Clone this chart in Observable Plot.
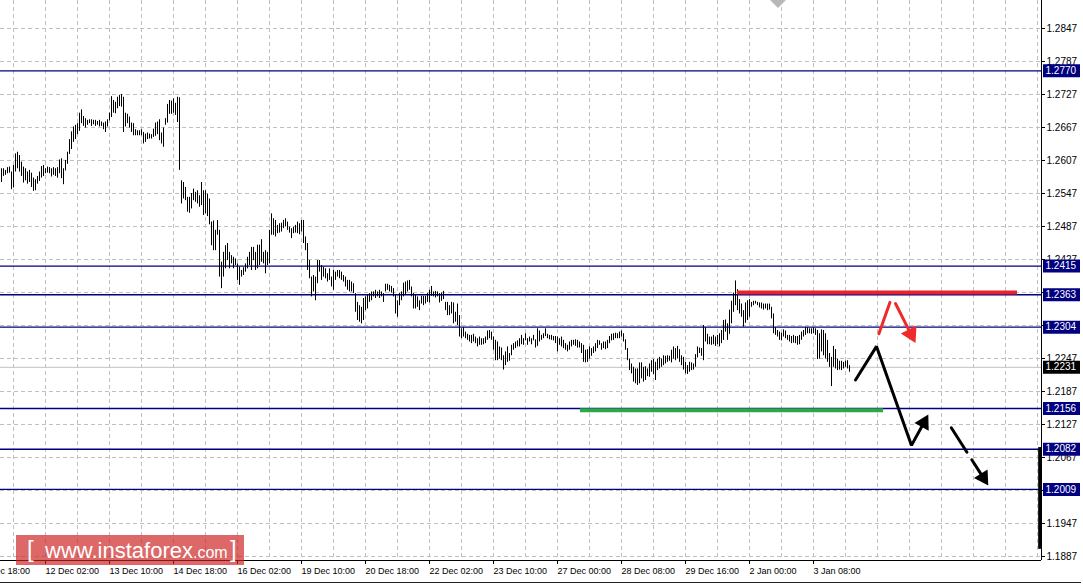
<!DOCTYPE html>
<html>
<head>
<meta charset="utf-8">
<script src="https://cdn.jsdelivr.net/npm/d3@7"></script>
<script src="https://cdn.jsdelivr.net/npm/@observablehq/plot@0.6"></script>
<style>
html,body{margin:0;padding:0;background:#fff;}
#wrap{position:relative;width:1083px;height:585px;overflow:hidden;background:#fff;}
#wm{position:absolute;left:16px;top:535px;width:228px;height:30px;background:rgba(205,32,32,0.68);color:#fff;font-family:"Liberation Sans",Arial,sans-serif;white-space:nowrap;line-height:30px;}
#wm .br{position:absolute;top:-1px;font-size:24px;}
#wm .big{position:absolute;left:29px;top:1px;font-size:22px;}
#wm .sm{font-size:16px;}
#topmark{position:absolute;left:770px;top:0;width:0;height:0;border-left:8px solid transparent;border-right:8px solid transparent;border-top:8px solid #b8b8b8;}
#bottomline{position:absolute;left:0;top:582px;width:1081px;height:1px;background:#222;}
</style>
</head>
<body>
<div id="wrap">
<div id="chart"></div>
<div id="topmark"></div>
<div id="bottomline"></div>
<div id="wm"><span class="br" style="left:11px">[</span><span class="big">www.instaforex<span class="sm">.com</span></span><span class="br" style="left:214px">]</span></div>
</div>
<script>
// ---- GBP/USD H1 bars (high / low) ----
const high = [
1.2592,1.2592,1.2589,1.2594,1.2595,1.2586,1.2598,1.2619,1.2622,1.2616,
1.2604,1.2595,1.2592,1.2586,1.2589,1.2584,1.2575,1.2572,1.2578,1.2586,
1.2596,1.2598,1.2592,1.2595,1.2594,1.2592,1.2594,1.2592,1.2594,1.2608,
1.2610,1.2592,1.2607,1.2622,1.2645,1.2659,1.2668,1.2671,1.2674,1.2693,
1.2699,1.2687,1.2683,1.2680,1.2681,1.2681,1.2680,1.2680,1.2678,1.2680,
1.2677,1.2675,1.2677,1.2681,1.2693,1.2723,1.2716,1.2713,1.2722,1.2725,
1.2727,1.2722,1.2693,1.2691,1.2686,1.2675,1.2674,1.2663,1.2661,1.2661,
1.2663,1.2658,1.2655,1.2657,1.2655,1.2654,1.2664,1.2675,1.2677,1.2681,
1.2657,1.2666,1.2683,1.2709,1.2716,1.2715,1.2719,1.2711,1.2722,1.2721,
1.2570,1.2567,1.2558,1.2540,1.2540,1.2547,1.2555,1.2549,1.2552,1.2543,
1.2567,1.2552,1.2552,1.2546,1.2537,1.2495,1.2497,1.2480,1.2498,1.2480,
1.2422,1.2440,1.2452,1.2456,1.2440,1.2434,1.2431,1.2428,1.2419,1.2413,
1.2407,1.2412,1.2419,1.2431,1.2440,1.2449,1.2449,1.2440,1.2453,1.2453,
1.2463,1.2440,1.2443,1.2440,1.2480,1.2510,1.2501,1.2498,1.2489,1.2492,
1.2493,1.2498,1.2501,1.2495,1.2486,1.2483,1.2486,1.2489,1.2495,1.2492,
1.2498,1.2498,1.2468,1.2456,1.2425,1.2395,1.2398,1.2395,1.2425,1.2425,
1.2416,1.2413,1.2410,1.2401,1.2410,1.2395,1.2407,1.2404,1.2407,1.2407,
1.2404,1.2398,1.2395,1.2389,1.2389,1.2386,1.2383,1.2365,1.2349,1.2343,
1.2340,1.2356,1.2359,1.2362,1.2365,1.2368,1.2368,1.2371,1.2368,1.2371,
1.2368,1.2365,1.2382,1.2382,1.2380,1.2378,1.2374,1.2362,1.2352,1.2365,
1.2368,1.2384,1.2386,1.2388,1.2389,1.2377,1.2365,1.2362,1.2359,1.2352,
1.2360,1.2360,1.2360,1.2365,1.2371,1.2378,1.2368,1.2369,1.2368,1.2365,
1.2366,1.2369,1.2349,1.2349,1.2343,1.2349,1.2348,1.2331,1.2346,1.2325,
1.2301,1.2303,1.2295,1.2291,1.2289,1.2289,1.2291,1.2286,1.2283,1.2286,
1.2283,1.2283,1.2286,1.2297,1.2298,1.2295,1.2286,1.2280,1.2277,1.2268,
1.2266,1.2252,1.2259,1.2268,1.2256,1.2271,1.2274,1.2277,1.2279,1.2283,
1.2289,1.2283,1.2292,1.2283,1.2286,1.2283,1.2289,1.2281,1.2301,1.2297,
1.2289,1.2292,1.2301,1.2291,1.2289,1.2289,1.2287,1.2287,1.2286,1.2283,
1.2286,1.2280,1.2274,1.2271,1.2277,1.2280,1.2280,1.2281,1.2280,1.2277,
1.2274,1.2271,1.2262,1.2263,1.2268,1.2265,1.2268,1.2274,1.2280,1.2279,
1.2274,1.2277,1.2277,1.2280,1.2287,1.2291,1.2292,1.2293,1.2292,1.2295,
1.2297,1.2292,1.2281,1.2265,1.2246,1.2237,1.2231,1.2228,1.2228,1.2239,
1.2239,1.2231,1.2232,1.2228,1.2237,1.2243,1.2245,1.2240,1.2246,1.2249,
1.2246,1.2252,1.2251,1.2252,1.2251,1.2262,1.2268,1.2265,1.2269,1.2263,
1.2252,1.2249,1.2240,1.2234,1.2240,1.2239,1.2237,1.2254,1.2268,1.2266,
1.2265,1.2307,1.2303,1.2291,1.2286,1.2286,1.2289,1.2286,1.2289,1.2292,
1.2298,1.2316,1.2317,1.2310,1.2335,1.2351,1.2366,1.2388,1.2372,1.2354,
1.2346,1.2334,1.2348,1.2352,1.2354,1.2349,1.2351,1.2351,1.2349,1.2348,
1.2348,1.2346,1.2346,1.2346,1.2346,1.2340,1.2328,1.2303,1.2298,1.2295,
1.2293,1.2299,1.2297,1.2289,1.2289,1.2287,1.2289,1.2287,1.2287,1.2289,
1.2295,1.2298,1.2303,1.2303,1.2301,1.2301,1.2303,1.2301,1.2298,1.2292,
1.2299,1.2298,1.2292,1.2280,1.2256,1.2249,1.2269,1.2263,1.2246,1.2242,
1.2242,1.2240,1.2242,1.2243,1.2234
];
const low = [
1.2567,1.2578,1.2580,1.2583,1.2584,1.2554,1.2557,1.2586,1.2592,1.2586,
1.2578,1.2566,1.2570,1.2564,1.2567,1.2558,1.2551,1.2552,1.2564,1.2569,
1.2575,1.2578,1.2583,1.2584,1.2583,1.2577,1.2580,1.2578,1.2575,1.2583,
1.2574,1.2563,1.2588,1.2600,1.2618,1.2627,1.2640,1.2645,1.2654,1.2660,
1.2674,1.2669,1.2666,1.2671,1.2674,1.2669,1.2672,1.2669,1.2671,1.2668,
1.2669,1.2663,1.2658,1.2668,1.2679,1.2685,1.2693,1.2692,1.2701,1.2705,
1.2704,1.2658,1.2668,1.2674,1.2666,1.2658,1.2652,1.2652,1.2652,1.2652,
1.2652,1.2637,1.2640,1.2645,1.2646,1.2646,1.2649,1.2651,1.2654,1.2643,
1.2637,1.2631,1.2671,1.2675,1.2691,1.2691,1.2693,1.2689,1.2676,1.2589,
1.2528,1.2537,1.2534,1.2513,1.2511,1.2519,1.2534,1.2531,1.2528,1.2522,
1.2525,1.2507,1.2510,1.2505,1.2490,1.2452,1.2443,1.2443,1.2471,1.2395,
1.2374,1.2395,1.2410,1.2425,1.2410,1.2419,1.2410,1.2416,1.2389,1.2380,
1.2395,1.2398,1.2404,1.2410,1.2416,1.2407,1.2425,1.2407,1.2410,1.2416,
1.2422,1.2419,1.2401,1.2416,1.2419,1.2471,1.2471,1.2468,1.2474,1.2475,
1.2477,1.2483,1.2486,1.2480,1.2475,1.2465,1.2474,1.2475,1.2474,1.2472,
1.2477,1.2456,1.2443,1.2407,1.2392,1.2359,1.2368,1.2352,1.2383,1.2404,
1.2389,1.2395,1.2392,1.2386,1.2389,1.2377,1.2371,1.2389,1.2395,1.2392,
1.2389,1.2386,1.2377,1.2371,1.2368,1.2368,1.2365,1.2331,1.2316,1.2313,
1.2310,1.2316,1.2334,1.2337,1.2349,1.2352,1.2359,1.2356,1.2359,1.2356,
1.2359,1.2349,1.2368,1.2371,1.2368,1.2366,1.2359,1.2328,1.2322,1.2343,
1.2352,1.2359,1.2362,1.2368,1.2371,1.2359,1.2337,1.2337,1.2340,1.2334,
1.2346,1.2343,1.2346,1.2349,1.2348,1.2360,1.2359,1.2357,1.2359,1.2348,
1.2351,1.2354,1.2334,1.2325,1.2325,1.2328,1.2310,1.2313,1.2307,1.2286,
1.2283,1.2286,1.2283,1.2280,1.2277,1.2274,1.2277,1.2274,1.2268,1.2271,
1.2271,1.2272,1.2274,1.2280,1.2283,1.2280,1.2262,1.2243,1.2243,1.2246,
1.2243,1.2226,1.2234,1.2240,1.2242,1.2252,1.2262,1.2265,1.2268,1.2268,
1.2272,1.2271,1.2279,1.2271,1.2277,1.2272,1.2279,1.2266,1.2269,1.2277,
1.2280,1.2283,1.2287,1.2283,1.2281,1.2280,1.2279,1.2274,1.2259,1.2271,
1.2268,1.2265,1.2262,1.2259,1.2262,1.2268,1.2271,1.2269,1.2266,1.2266,
1.2256,1.2240,1.2239,1.2240,1.2246,1.2251,1.2256,1.2259,1.2265,1.2271,
1.2262,1.2265,1.2263,1.2265,1.2274,1.2279,1.2280,1.2283,1.2283,1.2283,
1.2286,1.2277,1.2262,1.2243,1.2225,1.2219,1.2204,1.2201,1.2198,1.2201,
1.2210,1.2204,1.2207,1.2214,1.2213,1.2222,1.2218,1.2207,1.2225,1.2228,
1.2231,1.2234,1.2237,1.2240,1.2242,1.2239,1.2246,1.2243,1.2246,1.2240,
1.2234,1.2226,1.2219,1.2218,1.2222,1.2225,1.2226,1.2231,1.2248,1.2256,
1.2251,1.2243,1.2277,1.2272,1.2272,1.2271,1.2272,1.2269,1.2272,1.2268,
1.2274,1.2280,1.2295,1.2280,1.2291,1.2310,1.2331,1.2343,1.2334,1.2328,
1.2322,1.2304,1.2311,1.2316,1.2322,1.2340,1.2343,1.2346,1.2343,1.2339,
1.2337,1.2335,1.2337,1.2334,1.2335,1.2319,1.2292,1.2289,1.2286,1.2280,
1.2279,1.2286,1.2283,1.2280,1.2277,1.2274,1.2275,1.2274,1.2271,1.2272,
1.2280,1.2286,1.2289,1.2292,1.2292,1.2291,1.2292,1.2289,1.2245,1.2246,
1.2259,1.2252,1.2246,1.2240,1.2231,1.2196,1.2231,1.2228,1.2225,1.2226,
1.2225,1.2228,1.2231,1.2228,1.2222
];

// ---- axes ----
const xTickIdx = [-10, 22, 54, 86, 118, 150, 182, 214, 246, 278, 310, 342, 374, 406];
const xTickLabels = ["8 Dec 18:00","12 Dec 02:00","13 Dec 10:00","14 Dec 18:00","16 Dec 02:00","19 Dec 10:00","20 Dec 18:00","22 Dec 02:00","23 Dec 10:00","27 Dec 00:00","28 Dec 08:00","29 Dec 16:00","2 Jan 00:00","3 Jan 08:00"];
const yTicks = [1.2847,1.2787,1.2727,1.2667,1.2607,1.2547,1.2487,1.2427,1.2367,1.2307,1.2247,1.2187,1.2127,1.2067,1.2007,1.1947,1.1887];
// tick labels fully covered by level boxes in the reference
const yHiddenLabels = [1.2367, 1.2307, 1.2007];
const gridIdx = d3.range(6, 520, 16);

// ---- levels & annotations (bar index, price) ----
const levels = [1.2770, 1.2415, 1.2363, 1.2304, 1.2156, 1.2082, 1.2009];
const lastPrice = 1.2231;
const resistance = {price: 1.2367, from: 368, to: 508};
const support = {price: 1.2153, from: 289.5, to: 441};
const redUp = [[438.7, 1.2292], [444.2, 1.2349]];
const redDown = [[447, 1.2347], [457, 1.2275]];
const blackZig = [[427, 1.2208], [437.5, 1.2269], [455, 1.2089], [463.4, 1.2145]];
const blackDash = [[474.9, 1.2121], [493.4, 1.2016]];
const scrollBar = {idx: 519.2, from: 1.2085, to: 1.1900};

// ---- layout ----
const W = 1083, H = 585, mL = 0, mR = 42, mT = 0, mB = 25;
const xDomain = [-0.5, 520];
const yDomain = [1.18797, 1.28979];
const kx = (W - mL - mR) / (xDomain[1] - xDomain[0]);
const ky = (H - mT - mB) / (yDomain[1] - yDomain[0]);
const boxX1 = 521, boxX2 = 539.5;

const bars = high.map((h, i) => ({i, high: h, low: low[i]}));
const labelMap = new Map(xTickIdx.map((d, i) => [d, xTickLabels[i]]));
const yLabelTicks = yTicks.filter(t => !yHiddenLabels.includes(t));

function arrowParts(pts, r) {
  const off = 2 * Math.sqrt(r * r * Math.PI / (3 * Math.sqrt(3)));
  const a = pts[pts.length - 2], b = pts[pts.length - 1];
  const dxs = (b[0] - a[0]) * kx, dys = -(b[1] - a[1]) * ky;
  const len = Math.hypot(dxs, dys), ux = dxs / len, uy = dys / len;
  const cx = b[0] - ux * off / kx, cy = b[1] + uy * off / ky;
  const line = pts.slice(0, -1).concat([[cx, cy]]).map(([x, y]) => ({x, y}));
  return {line, head: [{x: cx, y: cy, rotate: Math.atan2(ux, -uy) * 180 / Math.PI}]};
}
const aRed = arrowParts(redDown, 6.5);
const aZig = arrowParts(blackZig, 6);
const aDash = arrowParts(blackDash, 6);

const font = "'Liberation Sans', Arial, sans-serif";

const chart = Plot.plot({
  width: W, height: H,
  marginLeft: mL, marginRight: mR, marginTop: mT, marginBottom: mB,
  style: {fontFamily: font, fontSize: "9px", color: "#000", background: "#fff", overflow: "visible"},
  x: {domain: xDomain, axis: null},
  y: {domain: yDomain, axis: null},
  marks: [
    Plot.ruleX(gridIdx, {stroke: "#c0c0c0", strokeDasharray: "4,3"}),
    Plot.ruleY(yTicks, {stroke: "#c0c0c0", strokeDasharray: "4,3"}),
    Plot.ruleY([lastPrice], {stroke: "#c0c0c0"}),
    Plot.ruleY(levels, {stroke: "#000080", strokeWidth: 1.4}),
    Plot.ruleY([support], {y: "price", x1: "from", x2: "to", stroke: "#2aa84a", strokeWidth: 4}),
    Plot.ruleX(bars, {x: "i", y1: "low", y2: "high", stroke: "#000", strokeWidth: 1}),
    Plot.ruleY([resistance], {y: "price", x1: "from", x2: "to", stroke: "#e8232b", strokeWidth: 4}),
    Plot.line(redUp.map(([x, y]) => ({x, y})), {x: "x", y: "y", stroke: "#ee2a2a", strokeWidth: 3}),
    Plot.line(aRed.line, {x: "x", y: "y", stroke: "#ee2a2a", strokeWidth: 3}),
    Plot.dot(aRed.head, {x: "x", y: "y", rotate: "rotate", symbol: "triangle", r: 6.5, fill: "#ee2a2a", stroke: "none"}),
    Plot.line(aZig.line, {x: "x", y: "y", stroke: "#000", strokeWidth: 3, strokeLinejoin: "miter"}),
    Plot.dot(aZig.head, {x: "x", y: "y", rotate: "rotate", symbol: "triangle", r: 6, fill: "#000", stroke: "none"}),
    Plot.line(aDash.line, {x: "x", y: "y", stroke: "#000", strokeWidth: 3, strokeDasharray: "29,9"}),
    Plot.dot(aDash.head, {x: "x", y: "y", rotate: "rotate", symbol: "triangle", r: 6, fill: "#000", stroke: "none"}),
    Plot.ruleX([xDomain[1]], {stroke: "#000"}),
    Plot.ruleY([yDomain[0]], {stroke: "#000"}),
    Plot.ruleX([scrollBar], {x: "idx", y1: "from", y2: "to", stroke: "#000", strokeWidth: 3.5}),
    Plot.axisY(yTicks, {anchor: "right", tickSize: 3, tickPadding: 2, tickFormat: d => yLabelTicks.includes(d) ? d.toFixed(4) : "", fontSize: 10}),
    Plot.axisX(xTickIdx, {anchor: "bottom", tickSize: 4, tickPadding: 3, tickFormat: d => labelMap.get(d), textAnchor: "start", fontSize: 9}),
    Plot.ruleY(levels, {x1: boxX1, x2: boxX2, stroke: "#000080", strokeWidth: 13}),
    Plot.text(levels, {x: boxX1, y: d => d, text: d => d.toFixed(4), textAnchor: "start", dx: 2, fill: "#fff", fontSize: 10}),
    Plot.ruleY([lastPrice], {x1: boxX1, x2: boxX2, stroke: "#000", strokeWidth: 13}),
    Plot.text([lastPrice], {x: boxX1, y: d => d, text: d => d.toFixed(4), textAnchor: "start", dx: 2, fill: "#fff", fontSize: 10})
  ]
});
document.getElementById("chart").appendChild(chart);
</script>
</body>
</html>
